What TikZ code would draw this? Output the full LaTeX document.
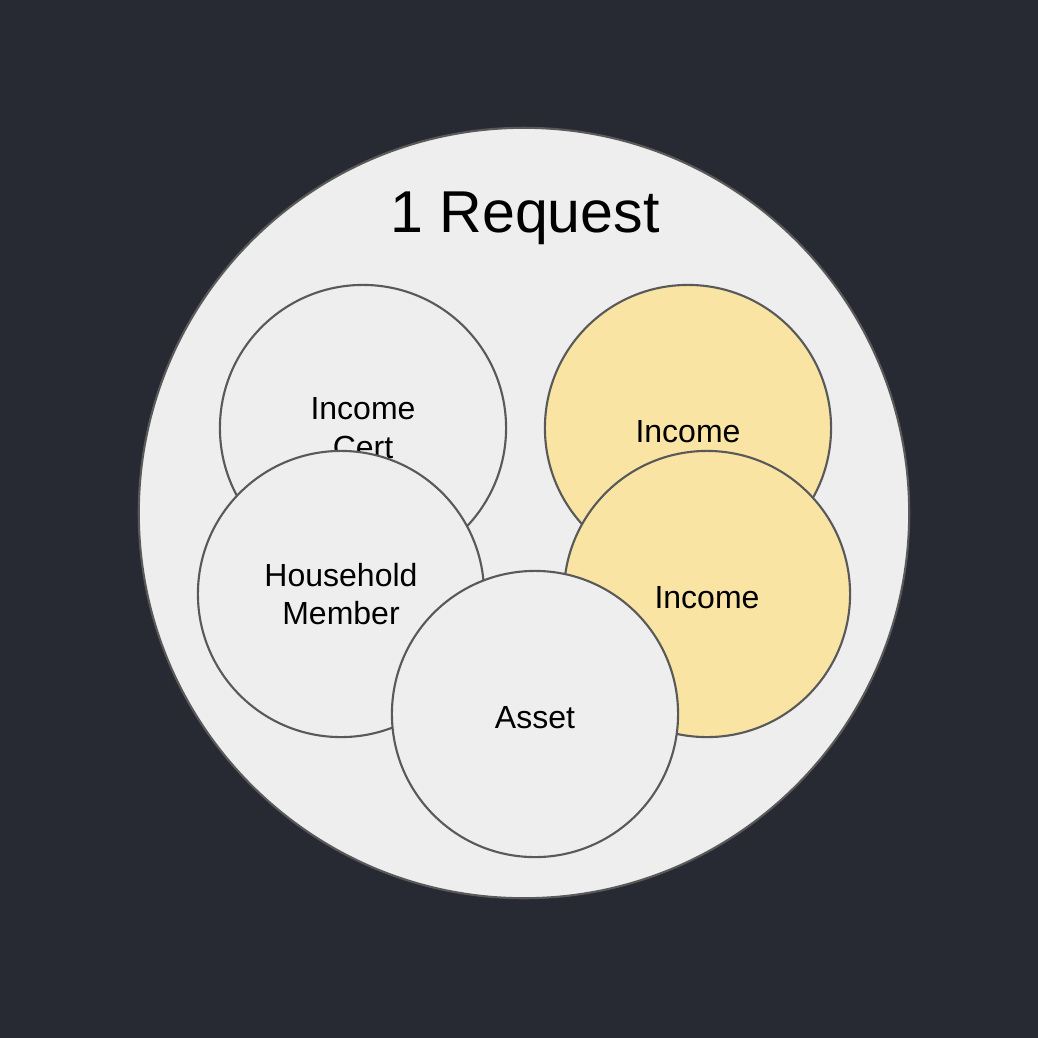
\documentclass[tikz,border=0pt]{standalone}
\usepackage{fontspec}
\setmainfont{Liberation Sans}
\definecolor{backdrop}{HTML}{282A33}
\definecolor{requestfill}{HTML}{EEEEEE}
\definecolor{entityfill}{HTML}{EEEEEE}
\definecolor{incomefill}{HTML}{F9E4A4}
\definecolor{edgegray}{HTML}{595959}
\tikzset{
  request/.style={
    circle,
    minimum size=7.70cm,
    inner sep=0pt,
    line width=0.6pt,
    draw=edgegray,
    fill=requestfill,
  },
  entity/.style={
    circle,
    minimum size=2.86cm,
    inner sep=0pt,
    line width=0.6pt,
    draw=edgegray,
    fill=entityfill,
    align=center,
    font=\fontsize{9.1}{10.9}\selectfont,
    text=black,
  },
  income entity/.style={
    entity,
    fill=incomefill,
  },
  heading/.style={
    text=black,
    font=\fontsize{16.8}{20}\selectfont,
  },
}

\begin{document}
\begin{tikzpicture}[x=0.01cm,y=-0.01cm]
  % Dark backdrop fixes the page size.
  \fill[backdrop] (0,0) rectangle (1038,1038);
  \useasboundingbox (0,0) rectangle (1038,1038);

  % The request that holds everything.
  \node[request] (req) at (524,513) {};
  \node[heading] (reqlabel) at (525,218) {1 Request};

  % Entities inside the request, back to front.
  \node[entity] (cert) at (363,428) {Income\\Cert};
  \node[income entity] (inc1) at (688,428) {\rule{0pt}{8.3pt}Income};
  \node[entity] (member) at (341,594) {Household\\Member};
  \node[income entity] (inc2) at (707,594) {\rule{0pt}{8.3pt}Income};
  \node[entity] (asset) at (535,714) {\rule{0pt}{8.3pt}Asset};
\end{tikzpicture}
\end{document}
